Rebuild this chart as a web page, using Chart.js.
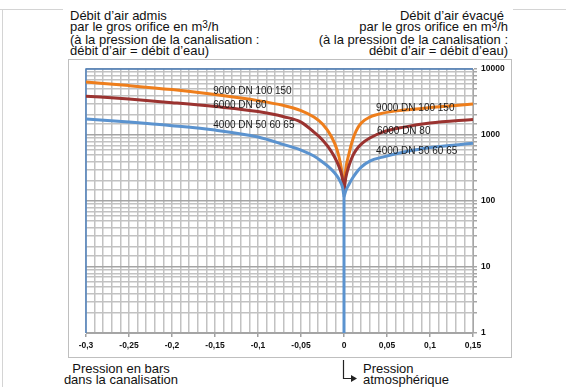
<!DOCTYPE html>
<html lang="fr">
<head>
<meta charset="utf-8">
<script src="https://cdn.jsdelivr.net/npm/chart.js@4.4.1/dist/chart.umd.min.js"></script>
<style>
  html, body { margin: 0; padding: 0; background: #fff; }
  body { width: 566px; height: 387px; position: relative; overflow: hidden; font-family: "Liberation Sans", Arial, sans-serif; color: #111; }
  .rule { position: absolute; background: #d4d4d4; }
  .txt { position: absolute; font-size: 13px; line-height: 11.3px; white-space: nowrap; }
  .sup { font-size: 10px; position: relative; top: -3px; }
  #box { position: absolute; left: 68px; top: 59px; width: 442px; height: 297px; border: 1px solid #bfbfbf; }
  #arrow { position: absolute; left: 338px; top: 358px; }
</style>
</head>
<body>
<div class="rule" style="left:0;top:9px;width:63px;height:1px"></div>
<div class="rule" style="left:513px;top:9px;width:53px;height:1px"></div>
<div class="rule" style="left:2px;top:9px;width:1px;height:378px"></div>

<div class="txt" style="left:70px;top:10px">Débit d’air admis<br>par le gros orifice en m<span class="sup">3</span>/h<br>(à la pression de la canalisation :<br>débit d’air = débit d’eau)</div>
<div class="txt" style="right:58px;top:10px;text-align:right"><span style="margin-right:4px">Débit d’air évacué</span><br>par le gros orifice en m<span class="sup">3</span>/h<br>(à la pression de la canalisation :<br>débit d’air = débit d’eau)</div>

<div id="box"><canvas id="chart" width="442" height="297"></canvas></div>

<div class="txt" style="left:40px;top:363px;width:162px;text-align:center">Pression en bars<br>dans la canalisation</div>
<div class="txt" style="left:363px;top:363px">Pression<br>atmosphérique</div>
<svg id="arrow" width="24" height="26">
  <path d="M5.5 2 V20.5 H14" stroke="#222" stroke-width="1.2" fill="none"/>
  <path d="M13 17 L19 20.5 L13 24 Z" fill="#222"/>
</svg>

<script>
// pression (bar) : côté dépression (admis) et côté surpression (évacué)
const pressionAdmis = [-0.3, -0.25, -0.2, -0.15, -0.1, -0.07, -0.05, -0.035, -0.025, -0.015, -0.008, -0.004, -0.0015, 0];
const pressionEvacue = [0, 0.002, 0.006, 0.01, 0.014, 0.02, 0.03, 0.045, 0.07, 0.1, 0.15];

// débit d'air (m3/h)
const admis9000 = [6350, 5620, 4890, 4110, 3330, 2800, 2350, 1875, 1470, 966, 593, 364, 223, 140];
const admis6000 = [3890, 3510, 3100, 2700, 2270, 1900, 1575, 1110, 840, 572, 390, 285, 208, 140];
const admis4000 = [1750, 1575, 1390, 1190, 933, 718, 593, 481, 390, 305, 239, 194, 157, 115];
const evacue9000 = [140, 295, 534, 840, 1150, 1520, 1875, 2150, 2390, 2610, 2950];
const evacue6000 = [140, 223, 351, 481, 593, 731, 901, 1110, 1320, 1520, 1730];
const evacue4000 = [115, 142, 181, 223, 266, 327, 404, 464, 553, 647, 749];
const chute4000 = [115, 1];

const curveNames = ['9000 DN 100 150', '6000 DN 80', '4000 DN 50 60 65'];
// label anchors in data units
const labelAdmisX = [-0.152, -0.152, -0.152];
const labelAdmisY = [4645, 2848, 1417];
const labelEvacueX = [0.0373, 0.0385, 0.0373];
const labelEvacueY = [2565, 1150, 572];

const COLORS = { c9000: '#ee7e1c', c6000: '#9b3330', c4000: '#5b93cf' };

const toPoints = (xs, ys) => xs.map((x, i) => ({ x, y: ys[i] }));

const line = (data, color) => ({
  data,
  borderColor: color,
  borderWidth: 3,
  pointRadius: 0,
  fill: false,
  cubicInterpolationMode: 'monotone',
});

const isDecade = v => {
  const e = Math.log10(v);
  return Math.abs(e - Math.round(e)) < 1e-9;
};

const plotFrame = {
  id: 'plotFrame',
  beforeDatasetsDraw(chart) {
    const { ctx, chartArea: a } = chart;
    ctx.save();
    ctx.strokeStyle = '#4f81bd';
    ctx.lineWidth = 1.5;
    ctx.beginPath();
    ctx.moveTo(a.left, a.bottom);
    ctx.lineTo(a.left, a.top);
    ctx.lineTo(a.right, a.top);
    ctx.stroke();
    ctx.restore();
  }
};

const curveLabels = {
  id: 'curveLabels',
  afterDatasetsDraw(chart) {
    const { ctx, scales: { x, y } } = chart;
    ctx.save();
    ctx.font = '10px "Liberation Sans", Arial, sans-serif';
    ctx.fillStyle = '#1a1a1a';
    ctx.textAlign = 'left';
    ctx.textBaseline = 'middle';
    curveNames.forEach((name, i) => {
      ctx.fillText(name, x.getPixelForValue(labelAdmisX[i]), y.getPixelForValue(labelAdmisY[i]));
      ctx.fillText(name, x.getPixelForValue(labelEvacueX[i]), y.getPixelForValue(labelEvacueY[i]));
    });
    ctx.restore();
  }
};

new Chart(document.getElementById('chart'), {
  type: 'line',
  data: {
    datasets: [
      line([{ x: 0, y: chute4000[0] }, { x: 0, y: chute4000[1] }], COLORS.c4000),
      line(toPoints(pressionAdmis, admis4000), COLORS.c4000),
      line(toPoints(pressionEvacue, evacue4000), COLORS.c4000),
      line(toPoints(pressionAdmis, admis6000), COLORS.c6000),
      line(toPoints(pressionEvacue, evacue6000), COLORS.c6000),
      line(toPoints(pressionAdmis, admis9000), COLORS.c9000),
      line(toPoints(pressionEvacue, evacue9000), COLORS.c9000),
    ]
  },
  options: {
    responsive: false,
    animation: false,
    layout: { padding: { left: 17, top: 9, right: 0, bottom: 0 } },
    plugins: { legend: { display: false }, tooltip: { enabled: false } },
    scales: {
      x: {
        type: 'linear',
        min: -0.3,
        max: 0.15,
        afterFit(scale) { scale.height = 24; },
        border: { color: '#a6a6a6', width: 1 },
        grid: {
          color: '#c2c2c2',
          lineWidth: 1.5,
          tickLength: 4,
          tickColor: c => (c.tick && Math.round(c.tick.value * 100) % 5 === 0) ? '#a0a0a0' : 'rgba(0,0,0,0)',
        },
        ticks: {
          stepSize: 0.01,
          autoSkip: false,
          maxRotation: 0,
          minRotation: 0,
          padding: 4,
          color: '#111',
          font: { family: '"Liberation Sans", Arial, sans-serif', size: 8.5, weight: 'bold' },
          callback(v) {
            const h = Math.round(v * 100);
            if (h % 5 !== 0) return '';
            return String(h / 100).replace('.', ',');
          }
        }
      },
      y: {
        type: 'logarithmic',
        position: 'right',
        min: 1,
        max: 10000,
        afterFit(scale) { scale.width = 38; },
        border: { color: '#a6a6a6', width: 1 },
        grid: {
          color: c => (c.tick && isDecade(c.tick.value)) ? '#a4a4a4' : '#c2c2c2',
          lineWidth: 1.5,
          tickLength: 4,
          tickColor: '#a6a6a6',
        },
        ticks: {
          autoSkip: false,
          padding: 4,
          color: '#111',
          font: { family: '"Liberation Sans", Arial, sans-serif', size: 8.5, weight: 'bold' },
          callback(v) { return isDecade(v) ? String(v) : ''; }
        }
      }
    }
  },
  plugins: [plotFrame, curveLabels]
});
</script>
</body>
</html>
